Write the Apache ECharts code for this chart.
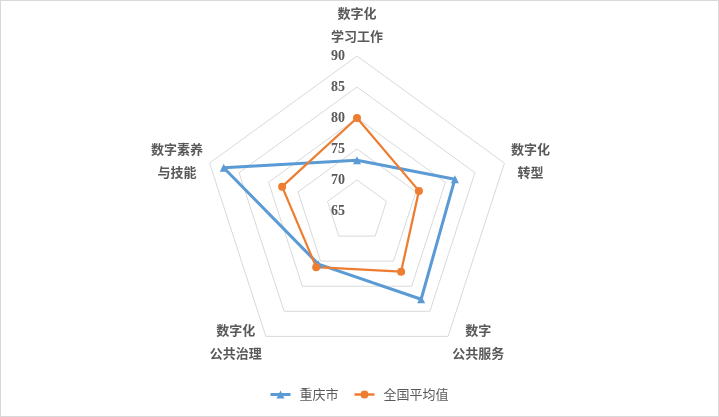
<!DOCTYPE html>
<html>
<head>
<meta charset="utf-8">
<script src="https://cdn.jsdelivr.net/npm/echarts@6/dist/echarts.min.js"></script>
<style>
  html, body { margin: 0; padding: 0; background: #fff; }
  #chart { width: 719px; height: 417px; box-sizing: border-box; border: 1px solid #d9d9d9; }
</style>
</head>
<body>
<div id="chart"></div>
<script>
// 指标（从顶部起逆时针）
var indicators = ['数字化\n学习工作', '数字素养\n与技能', '数字化\n公共治理', '数字\n公共服务', '数字化\n转型'];
var chongqing = [73.2, 87.6, 75.6, 82.6, 81.6];
var national = [80.0, 77.7, 76.2, 77.1, 75.5];
var seriesNames = ['重庆市', '全国平均值'];
var axisMin = 65, axisMax = 90;

var grey = '#595959';
var blue = '#5b9bd5', orange = '#ed7d31';
var myChart = echarts.init(document.getElementById('chart'));

var indicatorList = indicators.map(function (name, i) {
  var item = { name: name, min: axisMin, max: axisMax };
  if (i === 0) {
    // 只在第一条轴上显示刻度值
    item.axisLabel = {
      show: true,
      color: grey,
      fontFamily: 'Liberation Serif',
      fontWeight: 'bold',
      fontSize: 14,
      margin: 12
    };
  }
  return item;
});

// 图例图标：线 + 标记
var iconTriangle = 'path://M0,2.6 L20,2.6 L20,5.6 L0,5.6 Z M10,0 L14,8 L6,8 Z';
var iconCircle = 'path://M0,2.8 L20,2.8 L20,5.2 L0,5.2 Z M6,4 A4,4 0 1,1 14,4 A4,4 0 1,1 6,4 Z';

var option = {
  animation: false,
  legend: {
    bottom: 10,
    left: 'center',
    itemWidth: 20,
    itemHeight: 8,
    itemGap: 16,
    data: [
      { name: seriesNames[0], icon: iconTriangle },
      { name: seriesNames[1], icon: iconCircle }
    ],
    textStyle: { color: grey, fontSize: 13, fontFamily: 'Noto Sans CJK SC', padding: [0, 0, 0, 4] }
  },
  radar: {
    center: [356, 210],
    radius: 155,
    startAngle: 90,
    splitNumber: 5,
    shape: 'polygon',
    nameGap: 7,
    axisName: {
      formatter: function (name) {
        var s = name.split('\n').map(function (t) { return '{n|' + t + '}'; }).join('\n');
        if (name === indicators[0]) s += '\n{g| }';
        return s;
      },
      rich: {
        n: { align: 'center', color: grey, fontWeight: 'bold', fontSize: 13, lineHeight: 23, fontFamily: 'Noto Sans CJK SC' },
        g: { fontSize: 1, lineHeight: 1 }
      }
    },
    axisLine: { show: false },
    axisTick: { show: false },
    axisLabel: { show: false },
    splitArea: { show: false },
    splitLine: { lineStyle: { color: '#d9d9d9', width: 1 } },
    indicator: indicatorList
  },
  series: [{
    type: 'radar',
    data: [
      {
        name: seriesNames[0],
        value: chongqing,
        symbol: 'triangle',
        symbolSize: 8,
        lineStyle: { color: blue, width: 3 },
        itemStyle: { color: blue }
      },
      {
        name: seriesNames[1],
        value: national,
        symbol: 'circle',
        symbolSize: 8,
        lineStyle: { color: orange, width: 2.25 },
        itemStyle: { color: orange }
      }
    ]
  }]
};
option && myChart.setOption(option);
</script>
</body>
</html>
